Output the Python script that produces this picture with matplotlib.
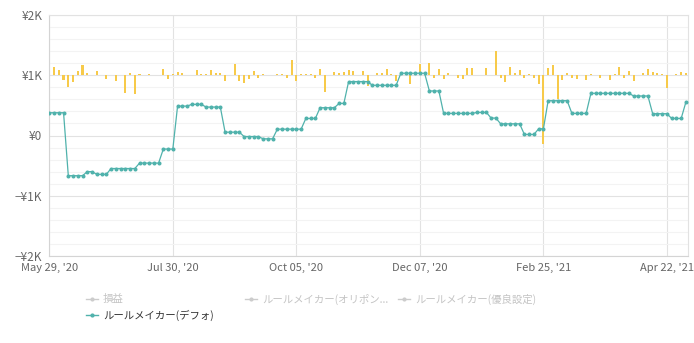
import matplotlib
matplotlib.use('Agg')
import matplotlib.pyplot as plt
from matplotlib.lines import Line2D
import numpy as np

plt.rcParams['font.family'] = ['Noto Sans CJK JP', 'DejaVu Sans']

# ルールメイカー(デフォ) 累積損益（円）
rule_default = [
    378, 378, 378, 378,
    -667, -667, -667, -667,
    -600, -600,
    -645, -645, -645,
    -548, -548, -548, -548, -548, -548,
    -458, -458, -458, -458, -458,
    -225, -225, -225,
    488, 488, 488,
    517, 517, 517,
    472, 472, 472, 472,
    55, 55, 55, 55,
    -17, -17, -17, -17,
    -55, -55, -55,
    105, 105, 105, 105, 105, 105,
    283, 283, 283,
    461, 461, 461, 461,
    533, 533,
    895, 895, 895, 895, 895,
    833, 833, 833, 833, 833, 833,
    1033, 1033, 1033, 1033, 1033, 1033,
    739, 739, 739,
    367, 367, 367, 367, 367, 367, 367,
    383, 383, 383,
    289, 289,
    194, 194, 194, 194, 194,
    17, 17, 17,
    111, 111,
    578, 578, 578, 578, 578,
    367, 367, 367, 367,
    700, 700, 700, 700, 700, 700, 700, 700, 700,
    656, 656, 656, 656,
    362, 362, 362, 362,
    283, 283, 283,
    556,
]

# 損益（日次、¥1K ライン基準）
daily_pnl = [
    61, 145, 83, -78, -195, -111, 67, 167, 33, 8,
    72, 8, -56, 8, -94, 8, -289, 44, -306, 28,
    8, 22, 8, 8, 100, -67, 15, 56, 33, 10,
    8, 89, 22, 15, 89, 33, 44, -94, 8, 183,
    -94, -122, -56, 72, -39, 15, 8, 10, 28, 17,
    -50, 245, -90, 15, 15, 22, -44, 111, -278, 8,
    56, 33, 56, 83, 72, 8, 72, -178, 8, 33,
    44, 111, 17, -94, 33, 56, -150, 17, 183, 8,
    211, -39, 111, -67, 44, 8, -50, -67, 117, 117,
    8, 8, 128, 8, 406, -50, -111, 139, 44, 89,
    -39, 17, -39, -150, -1133, 128, 167, -400, -78, 33,
    -39, -67, 8, -83, 28, 8, -50, 8, -83, 15,
    139, -39, 72, -94, 8, 44, 111, 56, 33, 17,
    -206, 8, 17, 61, 33,
]

tick_pos = [0, 26, 52, 78, 104, 130]
tick_labels = ["May 29, '20", "Jul 30, '20", "Oct 05, '20",
               "Dec 07, '20", "Feb 25, '21", "Apr 22, '21"]
y_ticks = [-2000, -1000, 0, 1000, 2000]
y_labels = ['−¥2K', '−¥1K', '¥0', '¥1K', '¥2K']

legend_names = ['損益', 'ルールメイカー(オリポン...', 'ルールメイカー(優良設定)', 'ルールメイカー(デフォ)']
legend_active = [False, False, False, True]

TEAL = '#50b2ac'
YELLOW = '#f7ca4a'

W, H = 694, 343
fig = plt.figure(figsize=(W / 100, H / 100), dpi=100)
ax = fig.add_axes([49.3 / W, 1 - 256 / H, (688.3 - 49.3) / W, (256 - 15) / H])

x = np.arange(len(rule_default))
ax.bar(x, daily_pnl, bottom=1000, width=0.45, color=YELLOW, zorder=2)
ax.plot(x, rule_default, color=TEAL, lw=0.9, marker='o', ms=1.9, zorder=3)

ax.set_xlim(0, 134.5)
ax.set_ylim(-2000, 2000)
ax.set_yticks(y_ticks)
ax.set_yticklabels(y_labels)
ax.set_yticks(np.arange(-2000, 2001, 200), minor=True)
ax.set_xticks(tick_pos)
ax.set_xticklabels(tick_labels)

ax.grid(axis='y', which='major', color='#e2e2e2', lw=0.8, zorder=0)
ax.grid(axis='y', which='minor', color='#f3f3f3', lw=0.8, zorder=0)
ax.grid(axis='x', which='major', color='#e2e2e2', lw=0.8, zorder=0)
ax.set_axisbelow(True)
ax.tick_params(which='both', length=0)
ax.tick_params(axis='y', labelsize=8.5, labelcolor='#666666', pad=5)
ax.tick_params(axis='x', labelsize=8, labelcolor='#666666', pad=5)
for s in ax.spines.values():
    s.set_color('#e2e2e2')
    s.set_linewidth(0.8)
ax.spines['left'].set_color('#d4d4d4')
ax.spines['bottom'].set_color('#d4d4d4')

# 凡例
legend_xy = [(86, 299), (245, 299), (398, 299), (86, 315)]
for (lx, ly), name, active in zip(legend_xy, legend_names, legend_active):
    col = TEAL if active else '#cccccc'
    fy = 1 - ly / H
    fig.add_artist(Line2D([lx / W, (lx + 12) / W], [fy, fy], transform=fig.transFigure,
                          color=col, lw=1.0))
    fig.add_artist(Line2D([(lx + 6) / W], [fy], transform=fig.transFigure,
                          color=col, marker='o', ms=2.0))
    fig.text((lx + 17) / W, fy, name, fontsize=7.5, va='center', ha='left',
             color='#333333' if active else '#c4c4c4')

fig.savefig('out.png', dpi=100, facecolor='white')
